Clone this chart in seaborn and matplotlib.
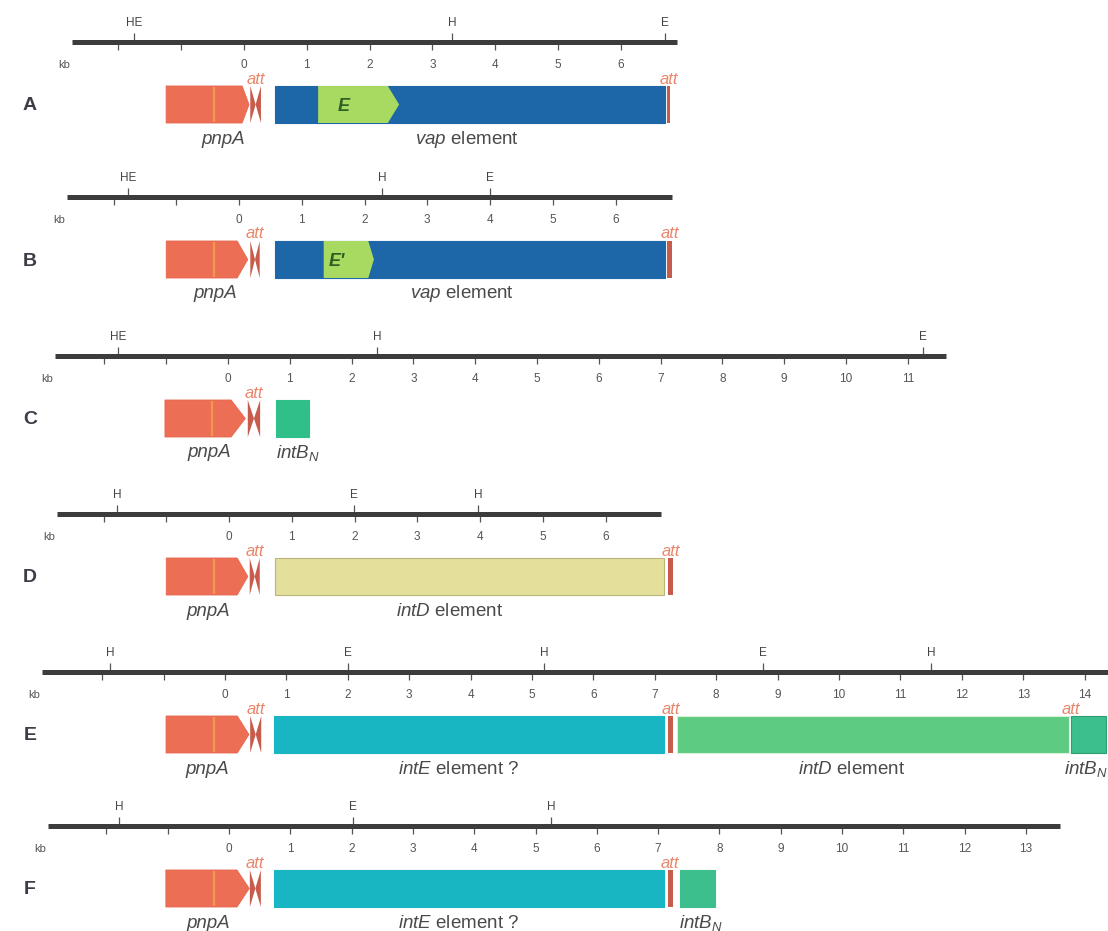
import seaborn as sns
import matplotlib.pyplot as plt
from matplotlib.patches import Polygon, Rectangle

sns.set_theme(style='white')
plt.rcParams['font.family'] = ['Liberation Sans', 'DejaVu Sans']
plt.rcParams['mathtext.fontset'] = 'custom'
plt.rcParams['mathtext.rm'] = 'Liberation Sans'
plt.rcParams['mathtext.it'] = 'Liberation Sans:italic'

# ---- data (kb) ----
letters = ['A', 'B', 'C', 'D', 'E', 'F']
ruler_start = [-2.74, -2.74, -2.80, -2.74, -2.98, -2.95]
ruler_end = [6.89, 6.90, 11.62, 6.88, 14.60, 13.56]
tick_max = [6, 6, 11, 6, 14, 13]
site_names = [['HE', 'H', 'E'], ['HE', 'H', 'E'], ['HE', 'H', 'E'],
              ['H', 'E', 'H'], ['H', 'E', 'H', 'E', 'H'], ['H', 'E', 'H']]
site_kb = [[-1.75, 3.31, 6.70], [-1.77, 2.28, 4.00], [-1.78, 2.41, 11.25],
           [-1.78, 1.99, 3.97], [-1.87, 2.00, 5.20, 8.76, 11.50], [-1.79, 2.02, 5.25]]

pnpA_start = [-1.24, -1.16, -1.02, -1.00, -0.96, -1.03]
pnpA_body_end = [-0.03, -0.03, 0.05, 0.13, 0.20, 0.13]
pnpA_tip = [0.08, 0.14, 0.28, 0.30, 0.39, 0.33]
pnpA_label_kb = [-0.33, -0.38, -0.31, -0.33, -0.29, -0.33]

att_start = [0.10, 0.18, 0.32, 0.33, 0.41, 0.34]
att_end = [0.27, 0.33, 0.52, 0.49, 0.59, 0.52]
att_bars = [[(6.74, 6.78)], [(6.82, 6.90)], [], [(7.00, 7.08)], [(7.22, 7.30)], [(7.16, 7.24)]]
att_junction = [[], [], [], [], [13.77], []]

element_names = [['vap'], ['vap'], ['intB_N'], ['intD'], ['intE', 'intD', 'intB_N'], ['intE', 'intB_N']]
element_start = [[0.49], [0.57], [0.78], [0.73], [0.80, 7.36, 13.78], [0.73, 7.36]]
element_end = [[6.70], [6.79], [1.31], [6.93], [7.15, 13.75, 14.35], [7.10, 7.93]]
element_label_kb = [[3.55], [3.55], [1.13], [3.51], [3.80, 10.21, 14.38], [3.74, 7.70]]

gene_label = ['E', "E'", None, None, None, None]
gene_start = [1.18, 1.35, None, None, None, None]
gene_body_end = [2.29, 2.06, None, None, None, None]
gene_tip = [2.47, 2.15, None, None, None, None]

element_text = {
    'vap': r'$\it{vap}$ element',
    'intD': r'$\it{intD}$ element',
    'intE': r'$\it{intE}$ element ?',
    'intB_N': r'$\it{intB}_{\it{N}}$',
}

# ---- layout / style ----
W, H = 1108, 931
line_y = [42, 197, 356, 514, 672, 826]      # pixel row of each ruler
zero_px = [244, 239, 228, 229, 225, 229]     # pixel of 0 kb
px_per_kb = [62.8, 62.75, 61.8, 62.75, 61.4, 61.3]
element_colors = [['#1d66a7'], ['#1d66a7'], ['#2fc08a'], ['#e4e09c'],
                  ['#18b6c2', '#5dcc82', '#3cbf8c'], ['#18b6c2', '#3cbf8c']]
element_edges = [['#1d66a7'], ['#1d66a7'], ['#2fc08a'], ['#b9b47a'],
                 ['#18b6c2', '#d8f0d8', '#2f9e74'], ['#18b6c2', '#3cbf8c']]
text_col = '#4a4a4a'
att_col = '#c85c4c'
att_text_col = '#e8866b'
TOP, BOT = -32, 112
box_top, box_bot = 44, 81
box_mid = (box_top + box_bot) / 2

fig = plt.figure(figsize=(W / 100, H / 100), dpi=100)

for i, letter in enumerate(letters):
    bottom = 1 - (line_y[i] + BOT) / H
    ax = fig.add_axes([0, bottom, 1, (BOT - TOP) / H])
    ax.set_xlim(-zero_px[i] / px_per_kb[i], (W - zero_px[i]) / px_per_kb[i])
    ax.set_ylim(BOT, TOP)
    ax.axis('off')

    # ruler
    ax.plot([ruler_start[i], ruler_end[i]], [0, 0], color='#3c3c3c', lw=3.6,
            solid_capstyle='butt', zorder=3)
    ticks = list(range(-2, tick_max[i] + 1))
    ax.vlines(ticks, 0, 8, color='#555555', lw=0.9, zorder=2)
    for t in range(0, tick_max[i] + 1):
        ax.text(t, 23, str(t), ha='center', va='center', fontsize=8.5, color='#555555')
    ax.text(ruler_start[i] - 0.13, 23, 'kb', ha='center', va='center', fontsize=8, color='#555555')
    ax.vlines(site_kb[i], -9, 0, color='#555555', lw=0.9, zorder=2)
    for name, x in zip(site_names[i], site_kb[i]):
        ax.text(x, -19, name, ha='center', va='center', fontsize=8.5, color='#444444')

    # pnpA arrow
    s, b, t = pnpA_start[i], pnpA_body_end[i], pnpA_tip[i]
    ax.add_patch(Polygon([(s, box_top), (b, box_top), (t, box_mid), (b, box_bot), (s, box_bot)],
                         closed=True, facecolor='#ec6f55', edgecolor='#e8664d', lw=0.6))
    stripe = s + 0.58 * (t - s)
    ax.vlines(stripe, box_top + 1, box_bot - 1, color='#f2a04c', lw=1.6, alpha=0.8)
    ax.text(pnpA_label_kb[i], 97, 'pnpA', ha='center', va='center', fontsize=13.5,
            style='italic', color=text_col)

    # left att (bow tie)
    a1, a2 = att_start[i], att_end[i]
    am = (a1 + a2) / 2
    ax.add_patch(Polygon([(a1, box_top), (am, box_mid), (a1, box_bot)], facecolor=att_col, lw=0))
    ax.add_patch(Polygon([(a2, box_top), (am, box_mid), (a2, box_bot)], facecolor=att_col, lw=0))
    ax.text(am, 37, 'att', ha='center', va='center', fontsize=12, style='italic', color=att_text_col)

    # elements
    for j, name in enumerate(element_names[i]):
        x0, x1 = element_start[i][j], element_end[i][j]
        ax.add_patch(Rectangle((x0, box_top), x1 - x0, box_bot - box_top,
                               facecolor=element_colors[i][j], edgecolor=element_edges[i][j], lw=0.8))
        ha = 'right' if x1 > ax.get_xlim()[1] - 0.5 else 'center'
        ax.text(element_label_kb[i][j], 97, element_text[name], ha=ha, va='center',
                fontsize=13.5, color=text_col)

    # right att bars
    for x0, x1 in att_bars[i]:
        ax.add_patch(Rectangle((x0, box_top), x1 - x0, box_bot - box_top, facecolor=att_col, lw=0))
        ax.text((x0 + x1) / 2, 37, 'att', ha='center', va='center', fontsize=12,
                style='italic', color=att_text_col)
    for x in att_junction[i]:
        ax.text(x, 37, 'att', ha='center', va='center', fontsize=12, style='italic', color=att_text_col)

    # E / E' gene inside the vap element
    if gene_label[i] is not None:
        gs, gb, gt = gene_start[i], gene_body_end[i], gene_tip[i]
        ax.add_patch(Polygon([(gs, box_top), (gb, box_top), (gt, box_mid), (gb, box_bot), (gs, box_bot)],
                             closed=True, facecolor='#a8da62', lw=0, zorder=3))
        ax.text((gs + gb) / 2 - 0.15, box_mid + 2, gene_label[i], ha='center', va='center',
                fontsize=13, weight='bold', style='italic', color='#2f5f22', zorder=4)

    fig.text(30 / W, 1 - (line_y[i] + 64) / H, letter, ha='center', va='center',
             fontsize=14, weight='bold', color='#3d3d48')

fig.savefig('out.png', dpi=100, facecolor='white')
